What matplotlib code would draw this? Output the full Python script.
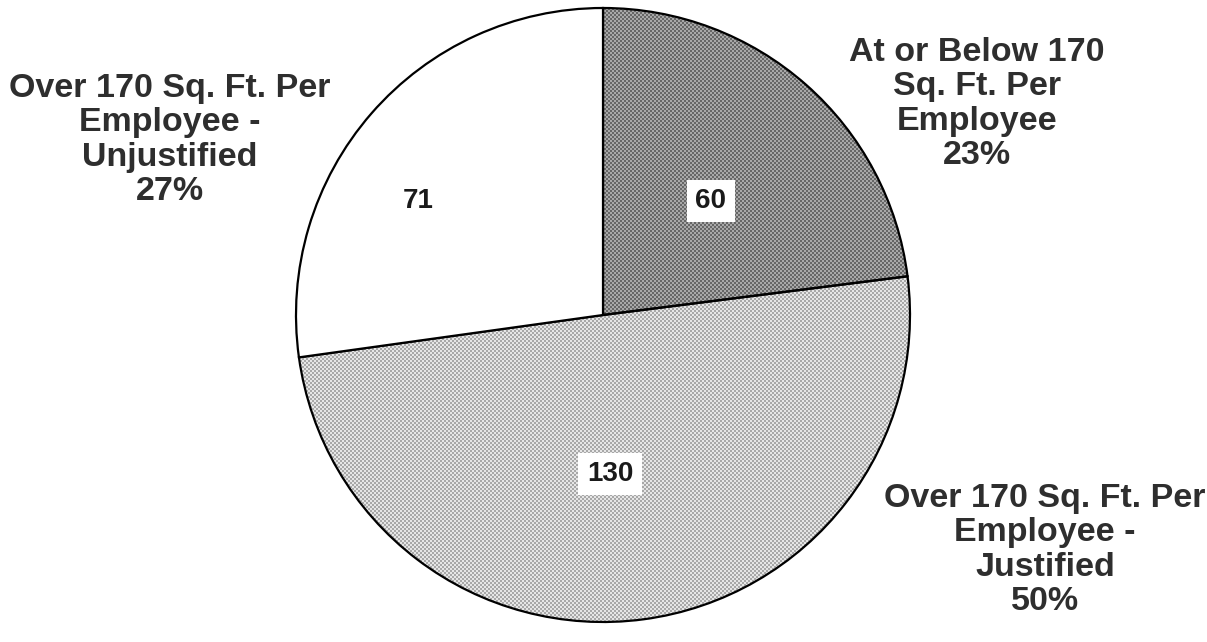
import numpy as np
import matplotlib
matplotlib.use("Agg")
import matplotlib.pyplot as plt

# Office space per employee
categories = [
    "At or Below 170\nSq. Ft. Per\nEmployee",
    "Over 170 Sq. Ft. Per\nEmployee -\nJustified",
    "Over 170 Sq. Ft. Per\nEmployee -\nUnjustified",
]
counts = [60, 130, 71]

W, H = 1207, 642
fig = plt.figure(figsize=(W / 100, H / 100), dpi=100)
ax = fig.add_axes([0, 0, 1, 1])

cx, cy, r = 603, H - 315, 307
total = sum(counts)
pcts = [round(100 * c / total) for c in counts]

wedges, _ = ax.pie(counts, startangle=90, counterclock=False, center=(cx, cy),
                   radius=r, colors=["none"] * 3,
                   wedgeprops=dict(edgecolor="black", linewidth=1.6),
                   frame=True)
ax.set_xlim(0, W)
ax.set_ylim(0, H)
ax.set_aspect("equal")
ax.axis("off")

# dithered fills (checkerboard screens)
yy, xx = np.mgrid[0:H, 0:W]
checker = ((xx // 2 + yy // 2) % 2).astype(float)
screens = [(0.40, 0.66), (0.66, 0.90), None]
for w, sc in zip(wedges, screens):
    if sc is None:
        w.set_facecolor("white")
        continue
    lo, hi = sc
    img = lo + (hi - lo) * checker
    im = ax.imshow(img, cmap="gray", vmin=0, vmax=1, extent=(0, W, 0, H),
                   origin="lower", interpolation="nearest", zorder=0.5)
    im.set_clip_path(w)
    w.set_zorder(1)

# value labels inside the wedges
value_pos = [(711, H - 201), (610, H - 474), (418, H - 201)]
for (x, y), v, boxed in zip(value_pos, counts, [True, True, False]):
    bbox = dict(boxstyle="square,pad=0.3", fc="white", ec="none") if boxed else None
    ax.text(x, y, str(v), ha="center", va="center", fontsize=20,
            family="Liberation Sans", weight="bold", color="#1a1a1a",
            bbox=bbox, zorder=3)

# category labels outside the pie
label_pos = [(977, H - 104), (1045, H - 550), (170, H - 140)]
for (x, y), cat, p in zip(label_pos, categories, pcts):
    ax.text(x, y, f"{cat}\n{p}%", ha="center", va="center", fontsize=24.5,
            family="Liberation Sans", weight="bold", color="#2e2e2e",
            linespacing=1.13, zorder=3)

fig.savefig("out.png", dpi=100, facecolor="white")
